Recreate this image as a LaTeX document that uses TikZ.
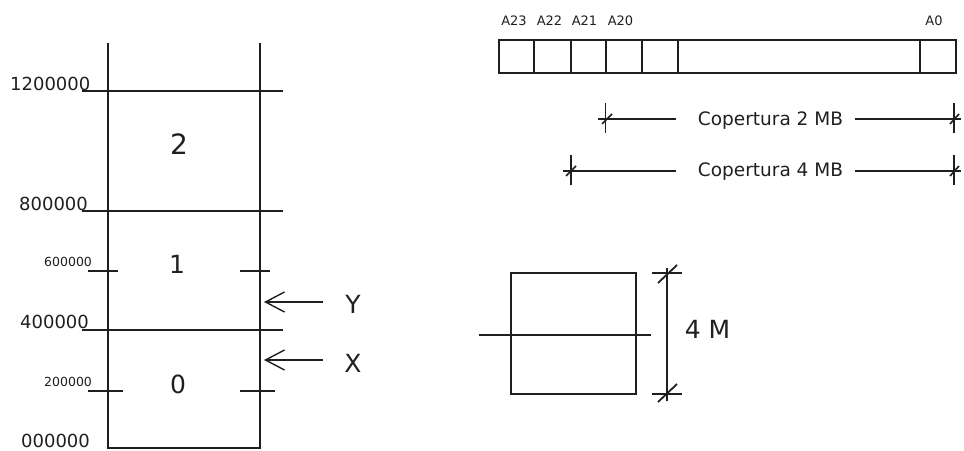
\documentclass[tikz,border=0pt]{standalone}
\usepackage{fontspec}
\setmainfont{DejaVu Sans}
\usetikzlibrary{arrows.meta}
\newcommand\myfs[1]{\fontsize{#1}{#1}\selectfont}
\begin{document}
\begin{tikzpicture}[x=1pt,y=-1pt,
  heavy/.style={line width=2pt, draw=black!88},
  light/.style={line width=1.4pt, draw=black!88},
  lbl/.style={inner sep=0pt, text=black!88},
  lblw/.style={lbl, anchor=base west},
  lblc/.style={lbl, anchor=base},
  ptr/.style={light, -{Straight Barb[length=19pt,width=20pt,line width=1.4pt]}}
]
\useasboundingbox (0,0) rectangle (964,450);

% ---------- left memory column ----------
\coordinate (LT) at (108,43);  \coordinate (LB) at (108,448);
\coordinate (RT) at (260,43);  \coordinate (RB) at (260,448);
\draw[heavy] (LT) -- (LB) -- (RB) -- (RT);

\coordinate (h12a) at (82,91);  \coordinate (h12b) at (283,91);
\coordinate (h8a) at (82,211);  \coordinate (h8b) at (283,211);
\coordinate (h4a) at (82,330);  \coordinate (h4b) at (283,330);
\draw[light] (h12a) -- (h12b);
\draw[light] (h8a) -- (h8b);
\draw[light] (h4a) -- (h4b);

\coordinate (t6la) at (88,271);  \coordinate (t6lb) at (118,271);
\coordinate (t6ra) at (240,271); \coordinate (t6rb) at (270,271);
\coordinate (t2la) at (88,391);  \coordinate (t2lb) at (123,391);
\coordinate (t2ra) at (240,391); \coordinate (t2rb) at (275,391);
\draw[light] (t6la) -- (t6lb);
\draw[light] (t6ra) -- (t6rb);
\draw[light] (t2la) -- (t2lb);
\draw[light] (t2ra) -- (t2rb);

\node[lblw] (l12) at (10,90)  {\myfs{18}1200000};
\node[lblw] (l8)  at (19,210) {\myfs{18}800000};
\node[lblw] (l6)  at (44,266) {\myfs{12.5}600000};
\node[lblw] (l4)  at (20,328) {\myfs{18}400000};
\node[lblw] (l2)  at (44,386) {\myfs{12.5}200000};
\node[lblw] (l0)  at (21,447) {\myfs{18}000000};

\node[lblc] (b2) at (179,154) {\myfs{28}2};
\node[lblc] (b1) at (177,273) {\myfs{25}1};
\node[lblc] (b0) at (178,393) {\myfs{25}0};

\node[lblc] (Y) at (353,313) {\myfs{25}Y};
\node[lblc] (X) at (353,372) {\myfs{25}X};
\coordinate (ys) at (323,302); \coordinate (ye) at (264,302);
\coordinate (xs) at (323,360); \coordinate (xe) at (264,360);
\draw[ptr] (ys) -- (ye);
\draw[ptr] (xs) -- (xe);

% ---------- address register ----------
\coordinate (regA) at (499,40); \coordinate (regB) at (956,73);
\draw[heavy, line width=1.8pt] (regA) rectangle (regB);
\foreach \xx in {534,571,606,642,678,920}
  \draw[heavy, line width=1.5pt] (\xx,40) -- (\xx,73);

\node[lblc] (a23) at (514,25)   {\myfs{13}A23};
\node[lblc] (a22) at (549.5,25) {\myfs{13}A22};
\node[lblc] (a21) at (584.5,25) {\myfs{13}A21};
\node[lblc] (a20) at (620.5,25) {\myfs{13}A20};
\node[lblc] (a0)  at (934,25)   {\myfs{13}A0};

% Copertura 2 MB
\node[lblc] (c2) at (770.5,125) {\myfs{18.5}Copertura 2 MB};
\coordinate (c2l) at (598,119); \coordinate (c2m1) at (676,119);
\coordinate (c2m2) at (855,119); \coordinate (c2r) at (961,119);
\draw[light] (c2l) -- (c2m1);
\draw[light] (c2m2) -- (c2r);
\draw[light] (605.5,103) -- (605.5,133);
\draw[heavy, line width=1.6pt] (602,124) -- (612,114);
\draw[light] (954,103) -- (954,133);
\draw[heavy, line width=1.6pt] (950,124) -- (959,114);

% Copertura 4 MB
\node[lblc] (c4) at (770.5,176) {\myfs{18.5}Copertura 4 MB};
\coordinate (c4l) at (563,171); \coordinate (c4m1) at (676,171);
\coordinate (c4m2) at (855,171); \coordinate (c4r) at (961,171);
\draw[light] (c4l) -- (c4m1);
\draw[light] (c4m2) -- (c4r);
\draw[light] (571,155) -- (571,185);
\draw[heavy, line width=1.6pt] (566,176) -- (576,166);
\draw[light] (954,155) -- (954,185);
\draw[heavy, line width=1.6pt] (950,176) -- (959,166);

% ---------- bottom right square ----------
\coordinate (sqA) at (511,273); \coordinate (sqB) at (636,394);
\draw[heavy] (sqA) rectangle (sqB);
\coordinate (mid1) at (479,335); \coordinate (mid2) at (651,335);
\draw[light] (mid1) -- (mid2);

\coordinate (dvT) at (667,268); \coordinate (dvB) at (667,401);
\draw[heavy, line width=1.8pt] (dvT) -- (dvB);
\draw[light] (652,273) -- (682,273);
\draw[heavy, line width=1.8pt] (658,283) -- (677,265);
\draw[light] (652,394) -- (682,394);
\draw[heavy, line width=1.8pt] (658,402) -- (677,384);
\node[lblc] (m4) at (707.5,338) {\myfs{25}4 M};
\end{tikzpicture}
\end{document}
